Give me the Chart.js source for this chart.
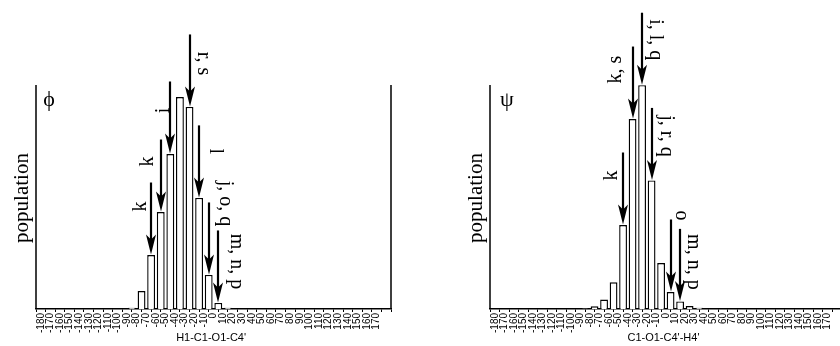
<!DOCTYPE html>
<html>
<head>
<meta charset="utf-8">
<script src="https://cdn.jsdelivr.net/npm/chart.js@4.4.1/dist/chart.umd.min.js"></script>
<style>
html, body { margin: 0; padding: 0; background: #fff; overflow: hidden; width: 840px; height: 346px; }
canvas { position: absolute; top: 0; }
#phiChart { left: 0; }
#psiChart { left: 420px; }
</style>
</head>
<body>
<canvas id="phiChart" width="420" height="346"></canvas>
<canvas id="psiChart" width="430" height="346"></canvas>
<script>
// bin centres (degrees) and relative population
const phiBins = [-85, -75, -65, -55, -45, -35, -25, -15, -5, 5, 15];
const phiPop  = [0.6, 8.0, 24.1, 43.3, 69.2, 94.6, 90.2, 49.6, 15.2, 2.7, 0.6];
const psiBins = [-85, -75, -65, -55, -45, -35, -25, -15, -5, 5, 15, 25, 35];
const psiPop  = [0.3, 1.2, 4.2, 11.9, 37.5, 84.8, 99.9, 57.4, 20.5, 7.6, 3.4, 1.3, 0.6];

// arrows: which bin they point at and their label
const phiArrowBins = [-65, -55, -45, -25, -15, -5, 5];
const phiArrowLabels = ['k', 'k', 'i', 'r, s', 'l', 'j, o, q', 'm, n, p'];
const psiArrowBins = [-45, -35, -25, -15, 5, 15];
const psiArrowLabels = ['k', 'k, s', 'i, l, q', 'j, r, q', 'o', 'm, n, p'];

// label offset from arrow top [dx, dy, quarter turns]
const phiLabelPlace = [[-10, 24, -1], [-13, 22, -1], [-6, 29, -1], [13, 29, 1], [16, 26, 1], [16, 1, 1], [18, 31, 1]];
const psiLabelPlace = [[-11, 23, -1], [-17, 23, -1], [13, 27, 1], [14, 28, 1], [10, -4, 1], [13, 33, 1]];

const figurePlugin = {
    id: 'figure',
    afterDatasetsDraw(chart, args, opts) {
        const { ctx, chartArea: a } = chart;
        const xs = chart.scales.x;
        const ys = chart.scales.y;
        ctx.save();
        ctx.strokeStyle = '#000';
        ctx.fillStyle = '#000';

        // frame lines
        ctx.lineWidth = 1.5;
        ctx.beginPath();
        ctx.moveTo(a.left, a.top);
        ctx.lineTo(a.left, a.bottom);
        if (opts.rightLine) {
            ctx.moveTo(a.right, a.top);
            ctx.lineTo(a.right, a.bottom);
        }
        ctx.stroke();

        // arrows with labels
        opts.arrowBins.forEach((b, i) => {
            const px = Math.round(xs.getPixelForValue(b));
            const k = opts.bins.indexOf(b);
            const tip = ys.getPixelForValue(opts.pop[k]) - 0.5;
            const top = tip - 72;
            ctx.lineWidth = 2.2;
            ctx.beginPath();
            ctx.moveTo(px, top);
            ctx.lineTo(px, tip - 12);
            ctx.stroke();
            ctx.beginPath();
            ctx.moveTo(px, tip);
            ctx.lineTo(px - 5, tip - 20);
            ctx.lineTo(px, tip - 15);
            ctx.lineTo(px + 5, tip - 20);
            ctx.closePath();
            ctx.fill();

            const p = opts.place[i];
            ctx.save();
            ctx.translate(px + p[0], top + p[1]);
            ctx.rotate(p[2] * Math.PI / 2);
            ctx.font = '20px "Liberation Serif"';
            ctx.textAlign = 'center';
            ctx.textBaseline = 'middle';
            ctx.fillText(opts.labels[i], 0, 0);
            ctx.restore();
        });

        // angle symbol
        ctx.font = '22px "Liberation Serif"';
        ctx.textAlign = 'center';
        ctx.textBaseline = 'middle';
        ctx.fillText(opts.symbol, a.left + opts.symbolDx, a.top + 15);

        // y title
        ctx.save();
        ctx.translate(a.left - 14, 198);
        ctx.rotate(-Math.PI / 2);
        ctx.font = '21px "Liberation Serif"';
        ctx.fillText('population', 0, 0);
        ctx.restore();

        // x title
        ctx.font = '11px "Liberation Sans"';
        ctx.fillText(opts.xTitle, (a.left + xs.getPixelForValue(180)) / 2, 338);
        ctx.restore();
    }
};

function makeHistogram(id, bins, pop, fig, padLeft, padRight) {
    return new Chart(document.getElementById(id), {
        type: 'bar',
        data: {
            datasets: [{
                data: bins.map((b, i) => ({ x: b, y: pop[i] })),
                backgroundColor: '#fff',
                borderColor: '#000',
                borderWidth: 1.4,
                barPercentage: 0.82,
                categoryPercentage: 1
            }]
        },
        options: {
            responsive: false,
            animation: false,
            layout: { padding: { left: padLeft, right: padRight, top: 85, bottom: 0 } },
            plugins: {
                legend: { display: false },
                tooltip: { enabled: false },
                figure: fig
            },
            scales: {
                x: {
                    type: 'linear',
                    min: -180,
                    max: 180,
                    afterFit: (s) => { s.height = 37; },
                    afterBuildTicks: (s) => {
                        s.ticks = [];
                        for (let v = -180; v <= 180; v += 10) s.ticks.push({ value: v });
                    },
                    grid: { drawOnChartArea: false, drawTicks: true, tickLength: 3, color: '#000', lineWidth: 1 },
                    border: { display: true, color: '#000', width: 1.5 },
                    ticks: {
                        autoSkip: false,
                        minRotation: 90,
                        maxRotation: 90,
                        padding: 1,
                        color: '#000',
                        font: { family: 'Liberation Sans', size: 10 },
                        callback: (v) => (v === 180 ? '' : String(v))
                    }
                },
                y: {
                    display: false,
                    min: 0,
                    max: 100
                }
            }
        },
        plugins: [figurePlugin]
    });
}

makeHistogram('phiChart', phiBins, phiPop, {
    bins: phiBins, pop: phiPop,
    arrowBins: phiArrowBins, labels: phiArrowLabels, place: phiLabelPlace,
    symbol: 'ϕ', symbolDx: 13, xTitle: "H1-C1-O1-C4'", rightLine: true
}, 36, 29);

makeHistogram('psiChart', psiBins, psiPop, {
    bins: psiBins, pop: psiPop,
    arrowBins: psiArrowBins, labels: psiArrowLabels, place: psiLabelPlace,
    symbol: 'ψ', symbolDx: 17, xTitle: "C1-O1-C4'-H4'", rightLine: false
}, 70, 5);
</script>
</body>
</html>
